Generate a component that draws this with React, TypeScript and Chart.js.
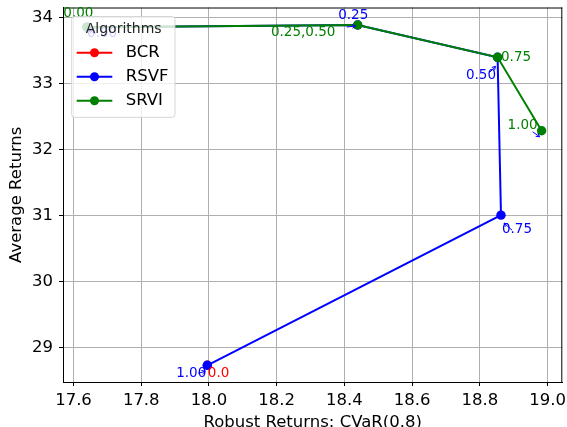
import { useEffect, useRef } from "react";
import { Chart, registerables } from "chart.js";
Chart.register(...registerables);

const xTicks = [17.6, 17.8, 18.0, 18.2, 18.4, 18.6, 18.8, 19.0];
const yTicks = [29, 30, 31, 32, 33, 34];

const bcrX = [17.995];
const bcrY = [28.732];
const bcrLabels = ["0.0"];

const rsvfX = [17.64, 18.439, 18.852, 18.862, 17.995];
const rsvfY = [33.85, 33.883, 33.394, 31.005, 28.732];
const rsvfLabels = ["0.00", "0.25", "0.50", "0.75", "1.00"];

const srviX = [17.64, 18.439, 18.852, 18.982];
const srviY = [33.85, 33.883, 33.394, 32.282];
const srviLabels = ["0.00", "0.25,0.50", "0.75", "1.00"];

const seriesNames = ["BCR", "RSVF", "SRVI"];
const seriesColors = ["#ff0000", "#0000ff", "#008000"];

// label placement styles: [dx, dy, align]
const bcrPlace: [number, number, CanvasTextAlign][] = [[0.5, 8.3, "left"]];
const rsvfPlace: [number, number, CanvasTextAlign][] = [
  [0, 6, "left"],
  [-4.5, -10, "center"],
  [-1.6, 17.7, "right"],
  [1, 14.3, "left"],
  [-1, 8.3, "right"],
];
const srviPlace: [number, number, CanvasTextAlign][] = [
  [-23.7, -13.3, "left"],
  [-22.3, 7.3, "right"],
  [3.4, 0, "left"],
  [-4, -5.7, "right"],
];
// arrows: [x1, y1, x2, y2] relative to the point
const bcrArrows: (number[] | null)[] = [null];
const rsvfArrows: (number[] | null)[] = [
  [9, 7, 2, 3],
  null,
  [-8, 15, -2, 9],
  [11, 15, 3, 8],
  [-9, 8, -2, 6],
];
const srviArrows: (number[] | null)[] = [null, [-11, 2, -2, 1], null, [-9, 1, -2, 6]];

const FONT = "DejaVu Sans";

export default function App() {
  const ref = useRef<HTMLCanvasElement>(null);
  useEffect(() => {
    const canvas = ref.current!;
    const mk = (xs: number[], ys: number[]) => xs.map((x, i) => ({ x, y: ys[i] }));
    const allX = [bcrX, rsvfX, srviX];
    const allY = [bcrY, rsvfY, srviY];
    const allLabels = [bcrLabels, rsvfLabels, srviLabels];
    const allPlace = [bcrPlace, rsvfPlace, srviPlace];
    const allArrows = [bcrArrows, rsvfArrows, srviArrows];

    const overlay = {
      id: "overlay",
      afterDraw(chart: any) {
        const ctx = chart.ctx as CanvasRenderingContext2D;
        const { left, right, top, bottom } = chart.chartArea;
        const xs = chart.scales.x;
        const ys = chart.scales.y;
        ctx.save();
        // top and right spines
        ctx.strokeStyle = "black";
        ctx.lineWidth = 1;
        ctx.beginPath();
        ctx.moveTo(left, top + 0.5);
        ctx.lineTo(right, top + 0.5);
        ctx.moveTo(right - 0.5, top);
        ctx.lineTo(right - 0.5, bottom);
        ctx.stroke();

        // arrows and labels
        for (let s = 0; s < 3; s++) {
          const X = allX[s], Y = allY[s];
          for (let i = 0; i < X.length; i++) {
            const px = xs.getPixelForValue(X[i]);
            const py = ys.getPixelForValue(Y[i]);
            const a = allArrows[s][i];
            if (a) {
              const x1 = px + a[0], y1 = py + a[1], x2 = px + a[2], y2 = py + a[3];
              const ang = Math.atan2(y2 - y1, x2 - x1);
              ctx.strokeStyle = "#0000ff";
              ctx.lineWidth = 1;
              ctx.beginPath();
              ctx.moveTo(x1, y1);
              ctx.lineTo(x2, y2);
              ctx.moveTo(x2 - 4 * Math.cos(ang - 0.5), y2 - 4 * Math.sin(ang - 0.5));
              ctx.lineTo(x2, y2);
              ctx.lineTo(x2 - 4 * Math.cos(ang + 0.5), y2 - 4 * Math.sin(ang + 0.5));
              ctx.stroke();
            }
            const p = allPlace[s][i];
            ctx.font = `13.5px "${FONT}"`;
            ctx.fillStyle = seriesColors[s];
            ctx.textAlign = p[2];
            ctx.textBaseline = "middle";
            ctx.fillText(allLabels[s][i], px + p[0], py + p[1]);
          }
        }

        // legend
        const bx = 71.7, by = 16.5, bw = 103.3, bh = 100.8, r = 3;
        ctx.beginPath();
        ctx.moveTo(bx + r, by);
        ctx.lineTo(bx + bw - r, by);
        ctx.arcTo(bx + bw, by, bx + bw, by + r, r);
        ctx.lineTo(bx + bw, by + bh - r);
        ctx.arcTo(bx + bw, by + bh, bx + bw - r, by + bh, r);
        ctx.lineTo(bx + r, by + bh);
        ctx.arcTo(bx, by + bh, bx, by + bh - r, r);
        ctx.lineTo(bx, by + r);
        ctx.arcTo(bx, by, bx + r, by, r);
        ctx.closePath();
        ctx.fillStyle = "rgba(255,255,255,0.8)";
        ctx.fill();
        ctx.strokeStyle = "rgba(204,204,204,0.8)";
        ctx.lineWidth = 1;
        ctx.stroke();
        ctx.fillStyle = "#222";
        ctx.font = `14px "${FONT}"`;
        ctx.textAlign = "center";
        ctx.textBaseline = "middle";
        ctx.fillText("Algorithms", 123.7, 29.3);
        const ey = [52.7, 76.7, 100.7];
        for (let s = 0; s < 3; s++) {
          ctx.strokeStyle = seriesColors[s];
          ctx.lineWidth = 2;
          ctx.beginPath();
          ctx.moveTo(76.7, ey[s]);
          ctx.lineTo(112.3, ey[s]);
          ctx.stroke();
          ctx.fillStyle = seriesColors[s];
          ctx.beginPath();
          ctx.arc(94.5, ey[s], 4.5, 0, Math.PI * 2);
          ctx.fill();
          ctx.fillStyle = "black";
          ctx.font = `16.5px "${FONT}"`;
          ctx.textAlign = "left";
          ctx.fillText(seriesNames[s], 125.7, ey[s]);
        }
        ctx.restore();
      },
    };

    const tickFont = { family: FONT, size: 16.5 };
    const zeroPad = (s: any) => {
      s.paddingTop = 0;
      s.paddingBottom = 0;
      s.paddingLeft = 0;
      s.paddingRight = 0;
    };
    const chart = new Chart(canvas, {
      type: "scatter",
      data: {
        datasets: [
          { label: "BCR", data: mk(bcrX, bcrY), order: 3 },
          { label: "RSVF", data: mk(rsvfX, rsvfY), order: 2 },
          { label: "SRVI", data: mk(srviX, srviY), order: 1 },
        ].map((d, i) => ({
          ...d,
          showLine: true,
          borderColor: seriesColors[i],
          backgroundColor: seriesColors[i],
          pointBackgroundColor: seriesColors[i],
          pointBorderColor: seriesColors[i],
          pointBorderWidth: 0,
          pointRadius: 4.7,
          borderWidth: 2,
          tension: 0,
        })),
      },
      options: {
        responsive: false,
        animation: false,
        devicePixelRatio: 1,
        layout: { padding: { top: 7.5, right: 4, left: 0, bottom: 0 } },
        plugins: { legend: { display: false }, tooltip: { enabled: false } },
        scales: {
          x: {
            type: "linear",
            min: 17.569,
            max: 19.043,
            afterBuildTicks: (s: any) => {
              s.ticks = xTicks.map((v) => ({ value: v }));
            },
            afterFit: (s: any) => {
              s.height = 45;
              zeroPad(s);
            },
            ticks: {
              callback: (v: any) => Number(v).toFixed(1),
              font: tickFont,
              color: "black",
              padding: 5,
              maxRotation: 0,
              autoSkip: false,
            },
            grid: { color: "#b0b0b0", lineWidth: 1, tickColor: "black", tickLength: 4 },
            border: { color: "black", width: 1 },
            title: {
              display: true,
              text: "Robust Returns: CVaR(0.8)",
              font: tickFont,
              color: "black",
              padding: { top: 0, bottom: -6 },
            },
          },
          y: {
            type: "linear",
            min: 28.479,
            max: 34.148,
            afterBuildTicks: (s: any) => {
              s.ticks = yTicks.map((v) => ({ value: v }));
            },
            afterFit: (s: any) => {
              s.width = 63;
              zeroPad(s);
            },
            ticks: {
              callback: (v: any) => Number(v).toFixed(0),
              font: tickFont,
              color: "black",
              padding: 6,
              autoSkip: false,
            },
            grid: { color: "#b0b0b0", lineWidth: 1, tickColor: "black", tickLength: 4 },
            border: { color: "black", width: 1 },
            title: {
              display: true,
              text: "Average Returns",
              font: tickFont,
              color: "black",
              padding: { top: 7, bottom: 0 },
            },
          },
        },
      },
      plugins: [overlay],
    } as any);
    return () => chart.destroy();
  }, []);
  return (
    <div style={{ position: "fixed", left: 0, top: 0, width: 567, height: 427 }}>
      <canvas ref={ref} width={567} height={427} style={{ display: "block", width: 567, height: 427 }} />
    </div>
  );
}
